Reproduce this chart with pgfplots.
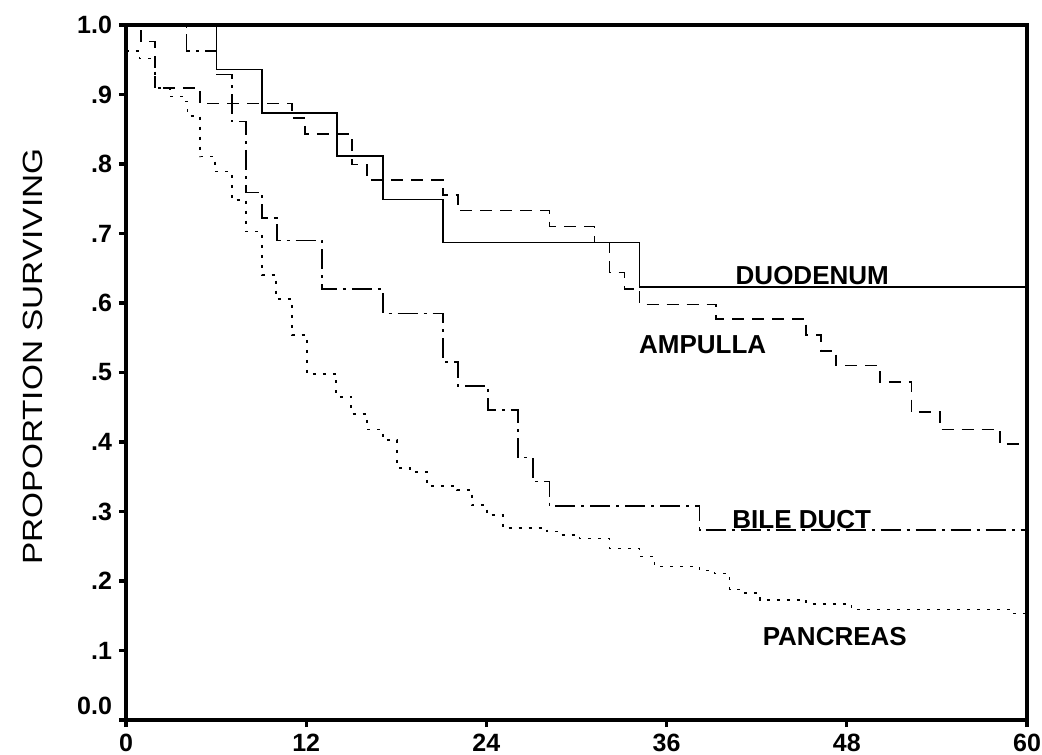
\documentclass[border=0pt]{standalone}
\usepackage{fontspec}
\setmainfont{Liberation Sans}
\usepackage{graphicx}
\usepackage{pgfplots}
\pgfplotsset{compat=1.18}
\begin{document}
\begin{tikzpicture}
\path[use as bounding box] (-63bp,-17.5bp) rectangle (458bp,360bp);
\begin{axis}[
  scale only axis,
  width=450.5bp, height=347.5bp,
  xmin=0, xmax=60, ymin=0, ymax=1,
  axis line style={line width=1.6bp, black},
  xtick={0,12,24,36,48,60},
  xticklabels={0,12,24,36,48,60},
  ytick={0,0.1,0.2,0.3,0.4,0.5,0.6,0.7,0.8,0.9,1.0},
  yticklabels={\raisebox{3bp}[0pt][0pt]{0.0},.1,.2,.3,.4,.5,.6,.7,.8,.9,1.0},
  tick align=outside,
  xtick pos=bottom, ytick pos=left,
  major tick length=3.5bp,
  tick style={line width=1.6bp, black},
  tick label style={font=\fontsize{12.5bp}{15bp}\selectfont\bfseries},
  ylabel={\scalebox{1.2}[1]{PROPORTION SURVIVING}},
  ylabel style={font=\fontsize{13.9bp}{16bp}\selectfont, at={(axis description cs:-0.1038,0.523)}, anchor=center},
  clip=false,
]
% DUODENUM
\addplot[const plot mark left, line width=0.8bp, black] coordinates {
(0,1.0) (6.04,0.936) (9.04,0.873) (14.04,0.8115) (17.1,0.749) (21.1,0.687) (34.2,0.6226) (60,0.6226)};
% AMPULLA
\addplot[const plot mark left, line width=0.8bp, black, dash pattern=on 6bp off 4bp] coordinates {
(0,1.0) (0.98,0.976) (1.93,0.909) (4.93,0.887) (11.04,0.866) (11.93,0.843) (15.04,0.799) (16.04,0.777) (21.1,0.755) (22.1,0.733) (28.2,0.710) (31.2,0.687) (32.2,0.644) (33.2,0.620) (34.2,0.598) (39.3,0.577) (45.3,0.554) (46.3,0.531) (47.3,0.510) (50.2,0.486) (52.3,0.443) (54.2,0.418) (58.2,0.397) (60,0.397)};
% BILE DUCT
\addplot[const plot mark left, line width=0.8bp, black, dash pattern=on 10bp off 3bp on 1.5bp off 3bp] coordinates {
(0,1.0) (4.04,0.963) (6.04,0.929) (7.04,0.861) (8.0,0.759) (9.04,0.722) (10.04,0.690) (13.04,0.620) (17.1,0.585) (21.1,0.5155) (22.1,0.481) (24.1,0.446) (26.1,0.3775) (27.1,0.343) (28.2,0.308) (38.2,0.273) (60,0.273)};
% PANCREAS
\addplot[const plot mark left, line width=0.8bp, black, dash pattern=on 1.5bp off 3.5bp] coordinates {
(0,0.963) (0.9,0.952) (1.93,0.909) (2.93,0.897) (3.93,0.890) (4.1,0.869) (4.93,0.8105) (5.93,0.789) (7.04,0.748) (8.0,0.7026) (9.04,0.640) (10.0,0.606) (11.04,0.554) (12.04,0.498) (14.0,0.465) (15.0,0.440) (16.04,0.418) (17.1,0.403) (18.04,0.363) (18.9,0.357) (20.04,0.337) (22.04,0.331) (23.04,0.309) (24.04,0.295) (25.1,0.276) (28.04,0.271) (29.0,0.266) (30.2,0.261) (32.2,0.247) (34.2,0.235) (35.2,0.2206) (38.2,0.215) (39.2,0.211) (40.2,0.188) (41.2,0.183) (42.2,0.173) (45.3,0.167) (48.3,0.159) (59.0,0.1535) (60,0.1535)};
\node[font=\fontsize{13bp}{15bp}\selectfont\bfseries, inner sep=0pt] at (axis cs:45.7,0.640) {DUODENUM};
\node[font=\fontsize{13bp}{15bp}\selectfont\bfseries, inner sep=0pt] at (axis cs:38.4,0.5396) {AMPULLA};
\node[font=\fontsize{13bp}{15bp}\selectfont\bfseries, inner sep=0pt] at (axis cs:45.0,0.289) {BILE DUCT};
\node[font=\fontsize{13bp}{15bp}\selectfont\bfseries, inner sep=0pt] at (axis cs:47.2,0.120) {PANCREAS};
\end{axis}
\end{tikzpicture}
\end{document}
